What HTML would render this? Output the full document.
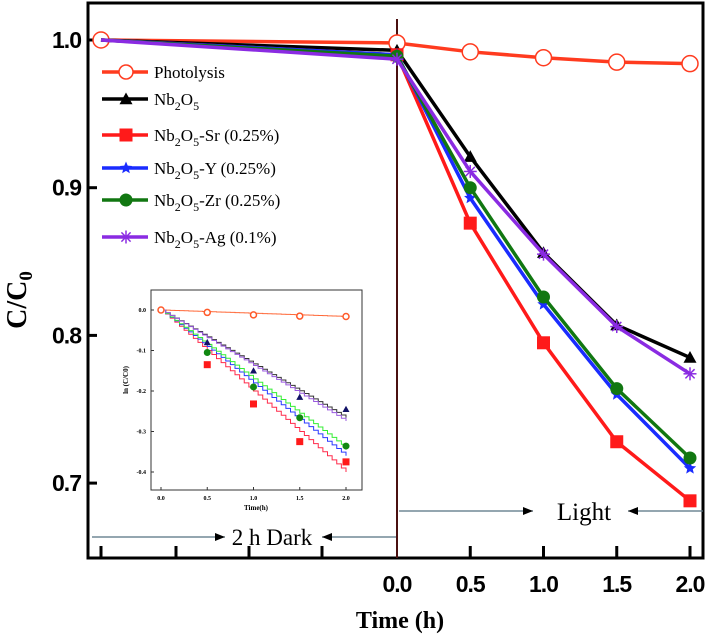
<!DOCTYPE html>
<html><head><meta charset="utf-8"><style>
body{margin:0;background:#fff}
svg text{font-family:"Liberation Serif",serif}
.tk{font-family:"Liberation Sans",sans-serif;font-weight:bold;font-size:23px;letter-spacing:-1px}
</style></head><body>
<svg id="c" width="708" height="636" viewBox="0 0 708 636" xmlns="http://www.w3.org/2000/svg"></svg>
<script>
const names=["Photolysis","Nb2O5","Nb2O5-Sr (0.25%)","Nb2O5-Y (0.25%)","Nb2O5-Zr (0.25%)","Nb2O5-Ag (0.1%)"];
const colors=["#ff3b1f","#000000","#ff1a1a","#1a2cff","#117711","#8a2be2"];
const markers=["circle","triangle","square","star","dot","cross"];
const lightTimes=[0,0.5,1.0,1.5,2.0];
const darkStart=[1.0,1.0,1.0,1.0,1.0,1.0];
const sPhoto=[0.998,0.992,0.988,0.985,0.984];
const sNb=[0.993,0.921,0.856,0.807,0.785];
const sSr=[0.990,0.876,0.795,0.728,0.688];
const sY=[0.990,0.893,0.821,0.760,0.710];
const sZr=[0.989,0.900,0.826,0.764,0.717];
const sAg=[0.987,0.911,0.855,0.806,0.774];
const series=[sPhoto,sNb,sSr,sY,sZr,sAg];
const yTicks=[1.0,0.9,0.8,0.7];
const xTickLabels=["0.0","0.5","1.0","1.5","2.0"];
// inset data
const insetTimes=[0,0.5,1.0,1.5,2.0];
const inPhoto=[0,-0.006,-0.012,-0.015,-0.016];
const inNb=[null,-0.08,-0.15,-0.215,-0.245];
const inSr=[null,-0.135,-0.232,-0.325,-0.375];
const inZr=[null,-0.105,-0.19,-0.266,-0.336];
const inPts=[inPhoto,inNb,inSr,inZr];
const inPtColors=["#ff5a2a","#111166","#ff1a1a","#118811"];
const inPtMarkers=["circle","triangle","square","dot"];
const fitSlopes=[-0.008,-0.133,-0.2,-0.18,-0.17,-0.137];
const fitColors=["#ff6a3a","#333333","#ff2a4a","#2a3aff","#33ee33","#9a5adf"];
const inYTicks=[0,-0.1,-0.2,-0.3,-0.4];
const inYLabels=["0.0","-0.1","-0.2","-0.3","-0.4"];
const inXLabels=["0.0","0.5","1.0","1.5","2.0"];

const svg=document.getElementById('c');
const NS="http://www.w3.org/2000/svg";
function el(t,a,p){const e=document.createElementNS(NS,t);for(const k in a)e.setAttribute(k,a[k]);(p||svg).appendChild(e);return e;}
const L=88,R=703,T=3,B=558;
const X=t=>397+t*146.5;
const Y=v=>40+(1-v)*1477;
function marker(type,x,y,c,s,p){
  let e;
  if(type==="circle")e=el('circle',{cx:x,cy:y,r:s,fill:'#fff',stroke:c,'stroke-width':1.5},p);
  else if(type==="dot")e=el('circle',{cx:x,cy:y,r:s,fill:c},p);
  else if(type==="square")e=el('rect',{x:x-s,y:y-s,width:2*s,height:2*s,fill:c},p);
  else if(type==="triangle")e=el('polygon',{points:`${x},${y-s} ${x-s},${y+s*0.8} ${x+s},${y+s*0.8}`,fill:c},p);
  else if(type==="star"){let pts=[];for(let i=0;i<10;i++){const r=i%2?s*0.45:s;const a=-Math.PI/2+i*Math.PI/5;pts.push((x+r*Math.cos(a))+","+(y+r*Math.sin(a)));}e=el('polygon',{points:pts.join(' '),fill:c},p);}
  else {e=el('g',{},p);for(let i=0;i<4;i++){const a=i*Math.PI/4;el('line',{x1:x-s*Math.cos(a),y1:y-s*Math.sin(a),x2:x+s*Math.cos(a),y2:y+s*Math.sin(a),stroke:c,'stroke-width':1.5},e);}}
  return e;
}
// frame
const fr=el('rect',{x:L,y:T,width:R-L,height:B-T,fill:'none',stroke:'#000','stroke-width':3});

// y ticks
yTicks.forEach(v=>{el('line',{x1:L,x2:L+9,y1:Y(v),y2:Y(v),stroke:'#000','stroke-width':3});
 const t=el('text',{x:81,y:Y(v)+8,'text-anchor':'end',class:'tk'});t.textContent=v.toFixed(1);
 });
// x ticks
[101,176,249,322].forEach(x=>el('line',{x1:x,x2:x,y1:B,y2:B-12,stroke:'#000','stroke-width':3}));
lightTimes.forEach((t,i)=>{if(i>0)el('line',{x1:X(t),x2:X(t),y1:B,y2:B-12,stroke:'#000','stroke-width':3});
 const tx=el('text',{x:X(t),y:592,'text-anchor':'middle',class:'tk'});tx.textContent=xTickLabels[i];
 });
// divider
el('line',{x1:397,x2:397,y1:19,y2:B,stroke:'#4a1010','stroke-width':2});
// axis titles
const xt=el('text',{x:400,y:628,'text-anchor':'middle','font-size':24,'font-weight':'bold'});xt.textContent="Time (h)";

const yt=el('text',{x:0,y:0,'text-anchor':'middle','font-size':28,'font-weight':'bold',transform:'translate(26,300) rotate(-90)'});
yt.innerHTML='C/C<tspan font-size="19" dy="6">0</tspan>';

// series
series.forEach((s,i)=>{
 const g=el('g',{});
 const pts=[[101,Y(darkStart[i])]].concat(s.map((v,j)=>[X(lightTimes[j]),Y(v)]));
 el('polyline',{points:pts.map(p=>p.join(',')).join(' '),fill:'none',stroke:colors[i],'stroke-width':3.5},g);
 pts.forEach((p,j)=>{if(j===0&&i>0)return;marker(markers[i],p[0],p[1],colors[i],i===0?8:6.5,g);});
});
// legend
const ly=[72,99,135,168,200,237];
const lg=el('g',{});
names.forEach((n,i)=>{
 el('line',{x1:102,x2:148,y1:ly[i],y2:ly[i],stroke:colors[i],'stroke-width':3.5},lg);
 marker(markers[i],126,ly[i],colors[i],i===0?7:6.5,lg);
 const t=el('text',{x:154,y:ly[i]+6,'font-size':17},lg);
 
 if(i===0)t.textContent=n;else{const rest=n.slice(5);t.innerHTML='Nb<tspan font-size="12" dy="5">2</tspan><tspan dy="-5">O</tspan><tspan font-size="12" dy="5">5</tspan><tspan dy="-5">'+rest+'</tspan>';}
});
// dark / light arrows
function arrow(x1,x2,y){el('line',{x1:x1,x2:x2,y1:y,y2:y,stroke:'#557080','stroke-width':1.2});const d=x2>x1?-1:1;el('polygon',{points:`${x2},${y} ${x2+d*10},${y-4} ${x2+d*10},${y+4}`,fill:'#000'});}
arrow(92,225,537);arrow(396,322,537);
const dk=el('text',{x:272,y:545,'text-anchor':'middle','font-size':23});dk.textContent="2 h Dark";

arrow(399,533,511);arrow(703,628,511);
const lt=el('text',{x:584,y:520,'text-anchor':'middle','font-size':25});lt.textContent="Light";

// inset
const IL=151,IR=362,IT=290,IB=490;
const IX=t=>161+t*92.5;
const IY=v=>310-v*405;
const ig=el('g',{});
el('rect',{x:IL,y:IT,width:IR-IL,height:IB-IT,fill:'#fff',stroke:'#333','stroke-width':1},ig);
inYTicks.forEach((v,i)=>{el('line',{x1:IL,x2:IL+3,y1:IY(v),y2:IY(v),stroke:'#333'},ig);
 const t=el('text',{x:IL-5,y:IY(v)+2,'text-anchor':'end','font-size':6,'font-weight':'bold'},ig);t.textContent=inYLabels[i];});
inXLabels.forEach((l,i)=>{el('line',{x1:IX(i*0.5),x2:IX(i*0.5),y1:IB,y2:IB-3,stroke:'#333'},ig);
 const t=el('text',{x:IX(i*0.5),y:IB+10,'text-anchor':'middle','font-size':6,'font-weight':'bold'},ig);t.textContent=l;});
const ixt=el('text',{x:256,y:510,'text-anchor':'middle','font-size':7,'font-weight':'bold'},ig);ixt.textContent="Time(h)";
const iyt=el('text',{x:0,y:0,'text-anchor':'middle','font-size':7,'font-weight':'bold',transform:'translate(128,380) rotate(-90)'},ig);iyt.textContent="ln (C/C0)";
fitSlopes.forEach((k,i)=>{const pts=[];for(let s=0;s<=40;s++){const t=s*0.05;pts.push(IX(t)+','+IY(k*t));if(s<40)pts.push(IX(t+0.05)+','+IY(k*t));}
 el('polyline',{points:pts.join(' '),fill:'none',stroke:fitColors[i],'stroke-width':1},ig);});
inPts.forEach((arr,i)=>arr.forEach((v,j)=>{if(v===null)return;marker(inPtMarkers[i],IX(insetTimes[j]),IY(v),inPtColors[i],i===0?3:3.5,ig);}));
</script>
</body></html>
